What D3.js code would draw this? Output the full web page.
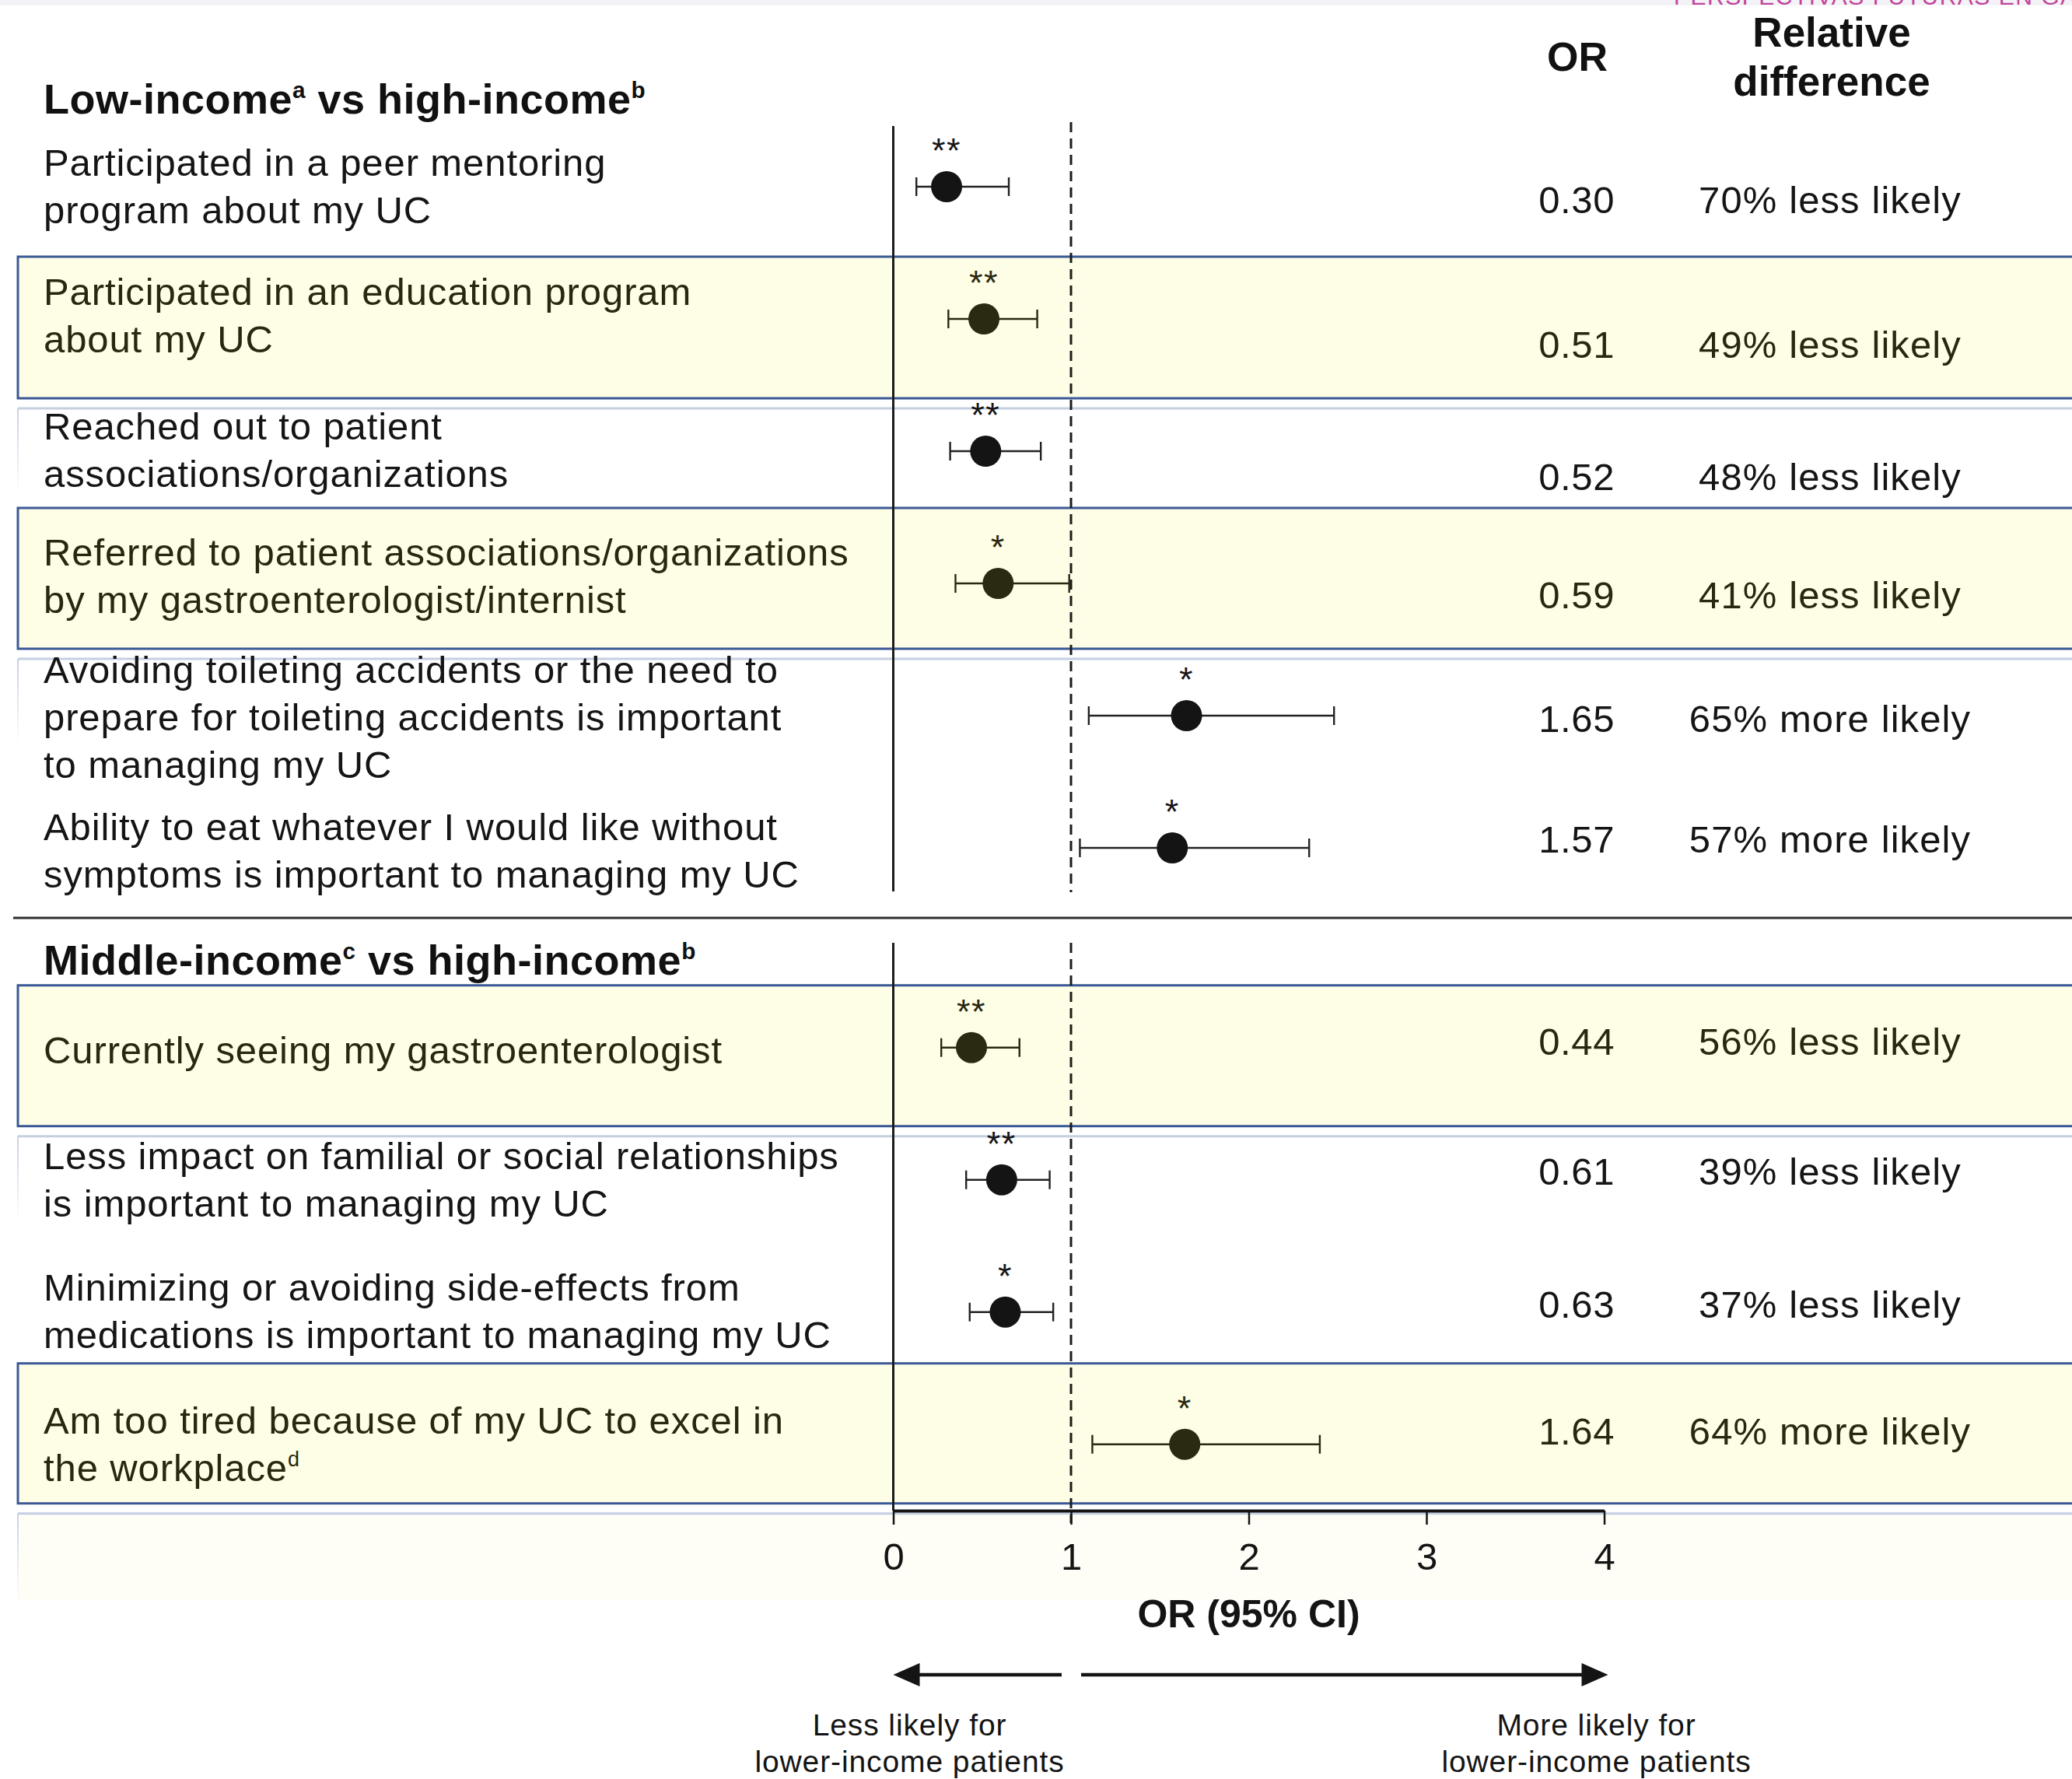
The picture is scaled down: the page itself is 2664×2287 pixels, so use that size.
<!DOCTYPE html>
<html>
<head>
<meta charset="utf-8">
<script src="https://cdn.jsdelivr.net/npm/d3@7/dist/d3.min.js"></script>
<style>
  html, body { margin: 0; padding: 0; background: #ffffff; }
  svg { display: block; }
  text { font-family: "Liberation Sans", Arial, Helvetica, sans-serif; }
</style>
</head>
<body>
<svg id="chart" width="2664" height="2287"></svg>
<script>
// ---- data ---------------------------------------------------------------
const sectionTitles = [
  ["Low-income", "a", " vs high-income", "b"],
  ["Middle-income", "c", " vs high-income", "b"]
];
const itemLabels = [
  ["Participated in a peer mentoring", "program about my UC"],
  ["Participated in an education program", "about my UC"],
  ["Reached out to patient", "associations/organizations"],
  ["Referred to patient associations/organizations", "by my gastroenterologist/internist"],
  ["Avoiding toileting accidents or the need to", "prepare for toileting accidents is important", "to managing my UC"],
  ["Ability to eat whatever I would like without", "symptoms is important to managing my UC"],
  ["Currently seeing my gastroenterologist"],
  ["Less impact on familial or social relationships", "is important to managing my UC"],
  ["Minimizing or avoiding side-effects from", "medications is important to managing my UC"],
  ["Am too tired because of my UC to excel in", "the workplace"]
];
const itemNotes = [null, null, null, null, null, null, null, null, null, "d"];
const itemSection = [0, 0, 0, 0, 0, 0, 1, 1, 1, 1];
const oddsRatio = [0.30, 0.51, 0.52, 0.59, 1.65, 1.57, 0.44, 0.61, 0.63, 1.64];
const ciLower   = [0.13, 0.31, 0.32, 0.35, 1.10, 1.05, 0.27, 0.41, 0.43, 1.12];
const ciUpper   = [0.65, 0.81, 0.83, 0.99, 2.48, 2.34, 0.71, 0.88, 0.90, 2.40];
const significance = ["**", "**", "**", "*", "*", "*", "**", "**", "*", "*"];
const highlighted = [false, true, false, true, false, false, true, false, false, true];
const axisTicks = [0, 1, 2, 3, 4];
const axisTitle = "OR (95% CI)";
const columnHeaders = { or: ["OR"], rel: ["Relative", "difference"] };
const directionLabels = [
  ["Less likely for", "lower-income patients"],
  ["More likely for", "lower-income patients"]
];

// ---- layout -------------------------------------------------------------
const W = 2664, H = 2287;
const FONT_LABEL = 49, FONT_TITLE = 54;
const svg = d3.select("#chart");

const x = d3.scaleLinear().domain([0, 4]).range([1148.5, 2062.5]);
// row slot -> vertical position; second section starts after a half-row gap
const sectionGap = 0.51;
const y = d3.scaleLinear().domain([0, 1]).range([240, 410]);
const rowY = i => y(i + (itemSection[i] === 1 ? sectionGap : 0));

// fine vertical tuning of text blocks and shaded bands (px)
const labelNudge = [0, -4, -1, -9, 3, 4, 4, 1, 0, 1];
const valueShift = [17, 33, 33, 15, 4, -11, -8, -11, -10, -17];
const bandEdges = { 1: [-80, 102], 3: [-97, 84], 6: [-80, 101], 9: [-104, 76] };

const inkDark = "#151515";
const inkBand = "#28270f";
const bandFill = "#fefee6";
const bandLine = "#3b5996";
const shadowLine = "#c6cfe2";
const axisBottomY = 1942;

const rows = oddsRatio.map((v, i) => ({
  i, or: v, lo: ciLower[i], hi: ciUpper[i], sig: significance[i],
  label: itemLabels[i], note: itemNotes[i], hl: highlighted[i], cy: rowY(i)
}));

// strip along the top edge with the running header peeking in
svg.append("rect").attr("x", 0).attr("y", 0).attr("width", W).attr("height", 7).attr("fill", "#f3f2f6");
svg.append("text").attr("x", 2152).attr("y", 6)
  .attr("font-size", 30).attr("letter-spacing", 1.5).attr("fill", "#c2449c")
  .text("PERSPECTIVAS FUTURAS EN GASTROENTEROLOGÍA");

// soft panel under the axis
svg.append("rect").attr("x", 23).attr("y", 1946).attr("width", W - 23).attr("height", 111)
  .attr("fill", "#fefef7");

// shaded bands for highlighted rows
const bandRows = rows.filter(r => r.hl);
const defs = svg.append("defs");
const fade = defs.append("linearGradient").attr("id", "fadeDown").attr("x1", 0).attr("x2", 0).attr("y1", 0).attr("y2", 1);
fade.append("stop").attr("offset", "0%").attr("stop-color", shadowLine).attr("stop-opacity", 1);
fade.append("stop").attr("offset", "100%").attr("stop-color", shadowLine).attr("stop-opacity", 0);

svg.append("g").selectAll("rect").data(bandRows).join("rect")
  .attr("x", 23)
  .attr("y", r => r.cy + bandEdges[r.i][0])
  .attr("width", W)
  .attr("height", r => bandEdges[r.i][1] - bandEdges[r.i][0])
  .attr("fill", bandFill)
  .attr("stroke", bandLine)
  .attr("stroke-width", 3);

// faint shadow rule under each band, with a fading left edge
const shadows = svg.append("g");
shadows.selectAll("line").data(bandRows).join("line")
  .attr("x1", 23).attr("x2", W)
  .attr("y1", r => r.cy + bandEdges[r.i][1] + 13)
  .attr("y2", r => r.cy + bandEdges[r.i][1] + 13)
  .attr("stroke", shadowLine).attr("stroke-width", 3);
shadows.selectAll("rect").data(bandRows).join("rect")
  .attr("x", 22).attr("width", 2)
  .attr("y", r => r.cy + bandEdges[r.i][1] + 13)
  .attr("height", 110)
  .attr("fill", "url(#fadeDown)");

// separator between the two comparisons
svg.append("line").attr("x1", 17).attr("x2", W).attr("y1", 1180).attr("y2", 1180)
  .attr("stroke", "#2e2e2e").attr("stroke-width", 3);

// reference lines: OR = 0 (solid) and OR = 1 (dashed), per section
const spans = [[162, 1146], [1212, axisBottomY]];
const spansDash = [[157, 1147], [1212, axisBottomY + 16]];
svg.append("g").selectAll("line").data(spans).join("line")
  .attr("x1", x(0)).attr("x2", x(0))
  .attr("y1", d => d[0]).attr("y2", d => d[1])
  .attr("stroke", "#1c1c1c").attr("stroke-width", 3);
svg.append("g").selectAll("line").data(spansDash).join("line")
  .attr("x1", x(1)).attr("x2", x(1))
  .attr("y1", d => d[0]).attr("y2", d => d[1])
  .attr("stroke", "#1c1c1c").attr("stroke-width", 3)
  .attr("stroke-dasharray", "13,8");

// section titles
const titleY = [146, 1253];
sectionTitles.forEach((parts, s) => {
  const t = svg.append("text").attr("x", 56).attr("y", titleY[s])
    .attr("font-size", FONT_TITLE).attr("font-weight", "bold")
    .attr("letter-spacing", 0.5).attr("fill", "#111");
  t.append("tspan").text(parts[0]);
  t.append("tspan").attr("font-size", FONT_TITLE * 0.55).attr("dy", -20).text(parts[1]);
  t.append("tspan").attr("dy", 20).text(parts[2]);
  t.append("tspan").attr("font-size", FONT_TITLE * 0.55).attr("dy", -20).text(parts[3]);
});

// column headers
svg.append("text").attr("x", 2028).attr("y", 91).attr("text-anchor", "middle")
  .attr("font-size", 52).attr("font-weight", "bold").attr("fill", "#111")
  .text(columnHeaders.or[0]);
svg.append("g").selectAll("text").data(columnHeaders.rel).join("text")
  .attr("x", 2355).attr("y", (d, k) => 60 + k * 63).attr("text-anchor", "middle")
  .attr("font-size", 53).attr("font-weight", "bold").attr("fill", "#111")
  .text(d => d);

// item labels
const labelG = svg.append("g");
rows.forEach(r => {
  const n = r.label.length;
  const first = r.cy + 16 - (n - 1) * 30.5 + labelNudge[r.i];
  r.label.forEach((line, k) => {
    const t = labelG.append("text").attr("x", 56).attr("y", first + k * 61)
      .attr("font-size", FONT_LABEL).attr("letter-spacing", 0.9)
      .attr("fill", r.hl ? inkBand : inkDark);
    t.append("tspan").text(line);
    if (r.note && k === n - 1) {
      t.append("tspan").attr("font-size", FONT_LABEL * 0.55).attr("dy", -19).text(r.note);
    }
  });
});

// confidence intervals
const ci = svg.append("g");
ci.selectAll("line.ci").data(rows).join("line").attr("class", "ci")
  .attr("x1", r => x(r.lo)).attr("x2", r => x(r.hi))
  .attr("y1", r => r.cy).attr("y2", r => r.cy)
  .attr("stroke", r => r.hl ? inkBand : "#222").attr("stroke-width", 2.6);
ci.selectAll("line.capL").data(rows).join("line").attr("class", "capL")
  .attr("x1", r => x(r.lo)).attr("x2", r => x(r.lo))
  .attr("y1", r => r.cy - 12).attr("y2", r => r.cy + 12)
  .attr("stroke", r => r.hl ? inkBand : "#222").attr("stroke-width", 2.4);
ci.selectAll("line.capR").data(rows).join("line").attr("class", "capR")
  .attr("x1", r => x(r.hi)).attr("x2", r => x(r.hi))
  .attr("y1", r => r.cy - 12).attr("y2", r => r.cy + 12)
  .attr("stroke", r => r.hl ? inkBand : "#222").attr("stroke-width", 2.4);

// point estimates
svg.append("g").selectAll("circle").data(rows).join("circle")
  .attr("cx", r => x(r.or)).attr("cy", r => r.cy).attr("r", 20)
  .attr("fill", r => r.hl ? "#2a2912" : "#141414");

// significance markers
svg.append("g").selectAll("text").data(rows).join("text")
  .attr("x", r => x(r.or)).attr("y", r => r.cy - 31)
  .attr("text-anchor", "middle").attr("font-size", 45).attr("letter-spacing", 1.5)
  .attr("fill", r => r.hl ? inkBand : inkDark)
  .text(r => r.sig);

// OR values and relative differences
const fmt = d3.format(".2f");
const relText = v => `${Math.round(Math.abs(1 - v) * 100)}% ${v < 1 ? "less" : "more"} likely`;
svg.append("g").selectAll("text").data(rows).join("text")
  .attr("x", 2076).attr("y", r => r.cy + valueShift[r.i] + 17)
  .attr("text-anchor", "end").attr("font-size", 49).attr("letter-spacing", 0.6)
  .attr("fill", r => r.hl ? inkBand : inkDark)
  .text(r => fmt(r.or));
svg.append("g").selectAll("text").data(rows).join("text")
  .attr("x", 2353).attr("y", r => r.cy + valueShift[r.i] + 17)
  .attr("text-anchor", "middle").attr("font-size", 49).attr("letter-spacing", 1.1)
  .attr("fill", r => r.hl ? inkBand : inkDark)
  .text(r => relText(r.or));

// x axis
const axisG = svg.append("g").attr("transform", `translate(0,${axisBottomY})`)
  .call(d3.axisBottom(x).tickValues(axisTicks).tickSize(18).tickSizeOuter(0)
    .tickPadding(23).tickFormat(d3.format("d")));
axisG.select(".domain").attr("stroke", "#141414").attr("stroke-width", 4);
axisG.selectAll(".tick line").attr("stroke", "#141414").attr("stroke-width", 2.5);
axisG.selectAll(".tick text").attr("font-size", 49).attr("fill", "#141414")
  .attr("font-family", "'Liberation Sans', Arial, sans-serif");

svg.append("text").attr("x", x(2)).attr("y", 2092).attr("text-anchor", "middle")
  .attr("font-size", 50).attr("font-weight", "bold").attr("fill", "#141414")
  .text(axisTitle);

// direction arrows
const arrowY = 2153;
const arr = svg.append("g").attr("fill", "#141414").attr("stroke", "#141414");
arr.append("line").attr("x1", x(0) + 30).attr("x2", x(1) - 12)
  .attr("y1", arrowY).attr("y2", arrowY).attr("stroke-width", 4.5);
arr.append("line").attr("x1", x(1) + 13).attr("x2", x(4) - 28)
  .attr("y1", arrowY).attr("y2", arrowY).attr("stroke-width", 4.5);
arr.append("path").attr("stroke", "none")
  .attr("d", `M${x(0)},${arrowY} L${x(0) + 34},${arrowY - 15} L${x(0) + 34},${arrowY + 15} Z`);
arr.append("path").attr("stroke", "none")
  .attr("d", `M${x(4) + 5},${arrowY} L${x(4) - 29},${arrowY - 15} L${x(4) - 29},${arrowY + 15} Z`);

const dirX = [x(0) + 21, x(4) - 10];
directionLabels.forEach((lines, s) => {
  svg.append("g").selectAll("text").data(lines).join("text")
    .attr("x", dirX[s]).attr("y", (d, k) => 2231 + k * 47)
    .attr("text-anchor", "middle").attr("font-size", 39).attr("letter-spacing", 0.9)
    .attr("fill", "#141414")
    .text(d => d);
});
</script>
</body>
</html>
